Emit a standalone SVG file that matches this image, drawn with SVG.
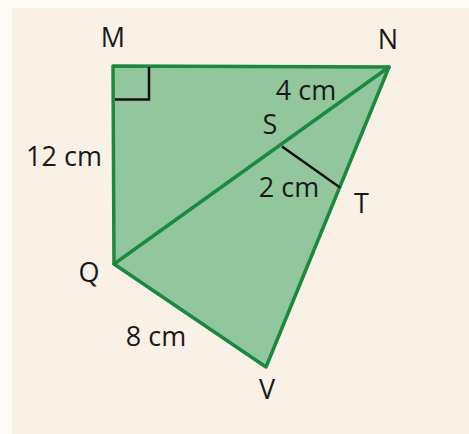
<svg xmlns="http://www.w3.org/2000/svg" width="469" height="434" viewBox="0 0 469 434">
  <style>
    .lbl { font-family: "Open Sans", "Noto Sans", "Liberation Sans", sans-serif; font-size: 27px; fill: #1a1a1a; }
    .edge { stroke: #1b8a3f; stroke-width: 3.5; fill: none; stroke-linejoin: round; stroke-linecap: round; }
    .mark { stroke: #111; stroke-width: 2.5; fill: none; }
  </style>
  <rect x="0" y="0" width="469" height="434" fill="#fdfaf6"/>
  <rect x="12" y="8" width="457" height="426" fill="#f9f1e6"/>

  <g id="shape">
    <polygon points="113,66 389,67 266,367 114,264" fill="#92c79d"/>
  </g>

  <g id="connectors">
    <path class="edge" d="M113,66 L389,67 L266,367 L114,264 Z"/>
    <line class="edge" x1="114" y1="264" x2="389" y2="67"/>
    <line class="mark" x1="282" y1="146.5" x2="340" y2="187.5"/>
    <polyline class="mark" points="149,67 149,99.5 115,99.5"/>
  </g>

  <g id="node-M"><text class="lbl" x="113" y="47" text-anchor="middle">M</text></g>
  <g id="node-N"><text class="lbl" x="388" y="49" text-anchor="middle">N</text></g>
  <g id="node-S"><text class="lbl" x="270" y="134" text-anchor="middle">S</text></g>
  <g id="node-T"><text class="lbl" x="361.5" y="213" text-anchor="middle">T</text></g>
  <g id="node-Q"><text class="lbl" x="89" y="282" text-anchor="middle">Q</text></g>
  <g id="node-V"><text class="lbl" x="267" y="399" text-anchor="middle">V</text></g>

  <g id="labels">
    <text class="lbl" x="306" y="100" text-anchor="middle">4 cm</text>
    <text class="lbl" x="64" y="165.5" text-anchor="middle">12 cm</text>
    <text class="lbl" x="289" y="197" text-anchor="middle">2 cm</text>
    <text class="lbl" x="156" y="345.5" text-anchor="middle">8 cm</text>
  </g>
</svg>
